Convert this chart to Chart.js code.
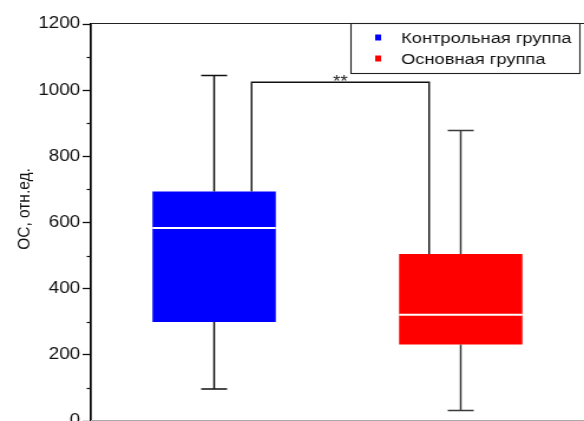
<!DOCTYPE html>
<html>
<head>
<meta charset="utf-8">
<script src="https://cdn.jsdelivr.net/npm/chart.js@4.4.1/dist/chart.umd.min.js"></script>
<style>
  html, body { margin: 0; padding: 0; background: #fff; overflow: hidden; }
</style>
</head>
<body>
<!-- drawn at 495px wide and shown at 584px, giving the wide lettering of the figure -->
<canvas id="c" width="495" height="421" style="display:block;width:584px;height:421px"></canvas>
<script>
// Groups and box-plot statistics (OC, relative units)
const groups = ['Контрольная группа', 'Основная группа'];
const whiskerLow = [97, 32];
const quartile1 = [299, 231];
const medians = [583, 321];
const quartile3 = [694, 505];
const whiskerHigh = [1044, 878];

// Axis
const yTitle = 'ОС, отн.ед.';
const yMin = 0, yMax = 1200, yMajorStep = 200;
const yMinorTicks = [100, 300, 500, 700, 900, 1100];

// Significance between the two groups
const sigLevel = 1024;
const sigLabel = '**';

const boxColors = ['#0000ff', '#ff0000'];
const whiskerColors = ['#111111', '#3a3a3a'];

const FONT = '"Liberation Sans", Arial, sans-serif';

// one floating bar (Q1..Q3) per group, each in its own dataset for the legend
const datasets = groups.map((g, gi) => ({
  label: g,
  data: groups.map((_, i) => (i === gi ? [quartile1[gi], quartile3[gi]] : null)),
  backgroundColor: boxColors[gi],
  borderWidth: 0,
  grouped: false,
  categoryPercentage: 0.5,
  barPercentage: 1.0
}));

const boxPlotExtras = {
  id: 'boxPlotExtras',
  afterDatasetsDraw(chart) {
    const { ctx, chartArea, scales: { x, y } } = chart;
    ctx.save();

    // frame: top rule and grey baseline
    ctx.strokeStyle = '#222';
    ctx.lineWidth = 1.1;
    ctx.beginPath();
    ctx.moveTo(chartArea.left, chartArea.top - 0.5);
    ctx.lineTo(chartArea.right, chartArea.top - 0.5);
    ctx.stroke();
    ctx.strokeStyle = '#a8a8a8';
    ctx.lineWidth = 1;
    ctx.beginPath();
    ctx.moveTo(chartArea.left, chartArea.bottom - 0.5);
    ctx.lineTo(chartArea.right, chartArea.bottom - 0.5);
    ctx.stroke();

    // minor ticks on the value axis
    ctx.strokeStyle = '#111';
    ctx.lineWidth = 1.2;
    yMinorTicks.forEach(v => {
      const py = Math.round(y.getPixelForValue(v)) + 0.5;
      ctx.beginPath();
      ctx.moveTo(chartArea.left - 3.5, py);
      ctx.lineTo(chartArea.left, py);
      ctx.stroke();
    });

    // whiskers and medians
    groups.forEach((g, i) => {
      const bar = chart.getDatasetMeta(i).data[i];
      const cx = bar.x;
      const half = bar.width / 2;
      const capHalf = 11;
      ctx.strokeStyle = whiskerColors[i];
      ctx.lineWidth = 1.5;
      ctx.beginPath();
      ctx.moveTo(cx, y.getPixelForValue(quartile3[i]));
      ctx.lineTo(cx, y.getPixelForValue(whiskerHigh[i]));
      ctx.moveTo(cx - capHalf, y.getPixelForValue(whiskerHigh[i]));
      ctx.lineTo(cx + capHalf, y.getPixelForValue(whiskerHigh[i]));
      ctx.moveTo(cx, y.getPixelForValue(quartile1[i]));
      ctx.lineTo(cx, y.getPixelForValue(whiskerLow[i]));
      ctx.moveTo(cx - capHalf, y.getPixelForValue(whiskerLow[i]));
      ctx.lineTo(cx + capHalf, y.getPixelForValue(whiskerLow[i]));
      ctx.stroke();

      ctx.strokeStyle = '#ffffff';
      ctx.lineWidth = 2;
      ctx.beginPath();
      ctx.moveTo(cx - half, y.getPixelForValue(medians[i]));
      ctx.lineTo(cx + half, y.getPixelForValue(medians[i]));
      ctx.stroke();
    });

    // significance bracket
    const bx0 = x.getPixelForValue(0.152);
    const bx1 = x.getPixelForValue(0.872);
    const by = y.getPixelForValue(sigLevel);
    ctx.strokeStyle = '#111';
    ctx.lineWidth = 1.4;
    ctx.beginPath();
    ctx.moveTo(bx0, y.getPixelForValue(quartile3[0]));
    ctx.lineTo(bx0, by);
    ctx.lineTo(bx1, by);
    ctx.lineTo(bx1, y.getPixelForValue(quartile3[1]));
    ctx.stroke();
    ctx.fillStyle = '#222';
    ctx.font = '16px ' + FONT;
    ctx.textAlign = 'center';
    ctx.textBaseline = 'alphabetic';
    ctx.fillText(sigLabel, (bx0 + bx1) / 2, by + 5);

    // value-axis title
    ctx.save();
    ctx.translate(21, 209);
    ctx.rotate(-Math.PI / 2);
    ctx.fillStyle = '#111';
    ctx.font = '15.5px ' + FONT;
    ctx.textAlign = 'center';
    ctx.textBaseline = 'middle';
    ctx.fillText(yTitle, 0, 0);
    ctx.restore();

    ctx.restore();
  },
  afterDraw(chart) {
    // boxed legend in the upper right corner
    const { ctx, chartArea } = chart;
    const right = chartArea.right - 3.5;
    const left = right - 194;
    const top = chartArea.top - 0.5;
    const bottom = 73.5;
    ctx.save();
    ctx.fillStyle = '#fff';
    ctx.fillRect(left, top, right - left, bottom - top);
    ctx.strokeStyle = '#222';
    ctx.lineWidth = 1.1;
    ctx.strokeRect(left, top, right - left, bottom - top);
    ctx.font = '15.5px ' + FONT;
    ctx.textAlign = 'left';
    ctx.textBaseline = 'alphabetic';
    chart.data.datasets.forEach((ds, i) => {
      const base = 42.5 + i * 21;
      ctx.fillStyle = ds.backgroundColor;
      ctx.fillRect(left + 20.5, base - 8, 5, 6);
      ctx.fillStyle = '#111';
      ctx.fillText(ds.label, left + 42.5, base);
    });
    ctx.restore();
  }
};

new Chart(document.getElementById('c'), {
  type: 'bar',
  data: { labels: groups, datasets },
  options: {
    responsive: false,
    animation: false,
    layout: { padding: { top: 24, left: 0, right: 0, bottom: 0 } },
    plugins: {
      legend: { display: false },
      tooltip: { enabled: false }
    },
    scales: {
      x: { display: false, offset: true },
      y: {
        min: yMin,
        max: yMax,
        ticks: {
          stepSize: yMajorStep,
          padding: 2,
          color: '#111',
          font: { family: FONT, size: 16 },
          callback: v => String(v)
        },
        grid: {
          drawOnChartArea: false,
          drawTicks: true,
          tickLength: 7,
          tickWidth: 1.3,
          tickColor: '#111'
        },
        border: { display: true, color: '#000', width: 1.7 },
        afterFit(scale) {
          scale.width = 77;
          scale.paddingTop = 0;
          scale.paddingBottom = 0;
        }
      }
    }
  },
  plugins: [boxPlotExtras]
});
</script>
</body>
</html>
